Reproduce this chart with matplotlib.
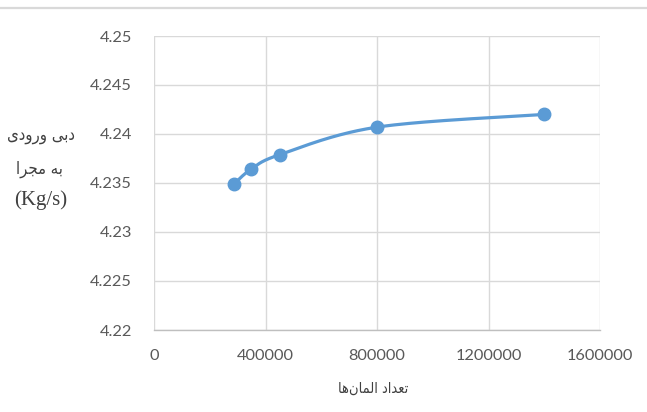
import numpy as np
import matplotlib
matplotlib.use("Agg")
import matplotlib.pyplot as plt
from matplotlib.lines import Line2D

# Number of mesh elements vs. inlet mass flow rate
elements = [287000, 348000, 452000, 800000, 1400000]
flow_rate = [4.2349, 4.2364, 4.2379, 4.2407, 4.2420]

x_ticks = [0, 400000, 800000, 1200000, 1600000]
y_ticks = [4.22, 4.225, 4.23, 4.235, 4.24, 4.245, 4.25]
y_tick_labels = ["4.22", "4.225", "4.23", "4.235", "4.24", "4.245", "4.25"]

# Persian labels, pre-shaped into presentation forms (visual order)
ylabel_line1 = "\uFBFC\uFEA9\uFEED\uFEAD\uFEED \uFBFD\uFE91\uFEA9"   # دبی ورودی
ylabel_line2 = "\uFE8D\uFEAE\uFEA0\uFEE3 \uFEEA\uFE91"               # به مجرا
ylabel_unit = "(Kg/s)"
xlabel_text = "\uFE8E\uFEEB\uFEE5\uFE8E\uFEE4\uFEDF\uFE8D \uFEA9\uFE8D\uFEAA\uFECC\uFE97"  # تعداد المان‌ها

LINE_COLOR = "#5B9BD5"
GRID_COLOR = "#D9D9D9"
TEXT_COLOR = "#595959"

W, H = 647, 412
fig = plt.figure(figsize=(W / 100, H / 100), dpi=100)
ax = fig.add_axes([154 / W, 1 - 330 / H, (600 - 154) / W, (330 - 36) / H])

xmin, xmax = 0, 1600000
ymin, ymax = 4.22, 4.25
ax.set_xlim(xmin, xmax)
ax.set_ylim(ymin, ymax)


def smooth_curve(xs, ys, n=60):
    """Catmull-Rom style smoothing computed in axes-proportional space."""
    bb = ax.get_position()
    sx = bb.width * W / (xmax - xmin)
    sy = bb.height * H / (ymax - ymin)
    P = np.column_stack([(np.asarray(xs) - xmin) * sx, (np.asarray(ys) - ymin) * sy])
    pts = np.vstack([P[0], P, P[-1]])
    out = []
    for i in range(1, len(pts) - 2):
        p0, p1, p2, p3 = pts[i - 1], pts[i], pts[i + 1], pts[i + 2]
        c1 = p1 + (p2 - p0) / 6
        c2 = p2 - (p3 - p1) / 6
        t = np.linspace(0, 1, n)[:, None]
        seg = ((1 - t) ** 3) * p1 + 3 * ((1 - t) ** 2) * t * c1 + 3 * (1 - t) * t ** 2 * c2 + t ** 3 * p2
        out.append(seg if i == 1 else seg[1:])
    c = np.vstack(out)
    return c[:, 0] / sx + xmin, c[:, 1] / sy + ymin


cx, cy = smooth_curve(elements, flow_rate)
ax.plot(cx, cy, color=LINE_COLOR, lw=2.3, solid_capstyle="round", zorder=3)
ax.plot(elements, flow_rate, "o", color=LINE_COLOR, ms=9, zorder=4)

ax.set_xticks(x_ticks)
ax.set_xticklabels([str(v) for v in x_ticks])
ax.set_yticks(y_ticks)
ax.set_yticklabels(y_tick_labels)
ax.grid(True, color=GRID_COLOR, lw=1)
ax.set_axisbelow(True)
for s in ["top", "right", "left"]:
    ax.spines[s].set_visible(False)
ax.spines["bottom"].set_color("#BFBFBF")
ax.spines["bottom"].set_linewidth(1)
ax.tick_params(axis="y", length=0, labelsize=11.8, labelcolor=TEXT_COLOR, pad=16)
ax.tick_params(axis="x", length=0, labelsize=11.8, labelcolor=TEXT_COLOR, pad=14)
for lab in ax.get_xticklabels() + ax.get_yticklabels():
    lab.set_family("Lato")

# Y-axis caption (three horizontal lines)
fig.text(41 / W, 1 - 135 / H, ylabel_line1, ha="center", va="center",
         fontsize=12, color="#404040", family="DejaVu Sans", fontstretch="condensed")
fig.text(39 / W, 1 - 169 / H, ylabel_line2, ha="center", va="center",
         fontsize=12, color="#404040", family="DejaVu Sans", fontstretch="condensed")
fig.text(41 / W, 1 - 200 / H, ylabel_unit, ha="center", va="center",
         fontsize=15, color="#404040", family="Liberation Serif")

# X-axis caption
fig.text(373 / W, 1 - 388 / H, xlabel_text, ha="center", va="center",
         fontsize=10.5, color="#404040", family="DejaVu Sans", fontstretch="condensed")

# Thin separator at the top of the chart area
fig.add_artist(Line2D([0, 1], [1 - 8 / H, 1 - 8 / H], transform=fig.transFigure,
                      color="#D9D9D9", lw=1.6))

fig.savefig("out.png", dpi=100, facecolor="white")
